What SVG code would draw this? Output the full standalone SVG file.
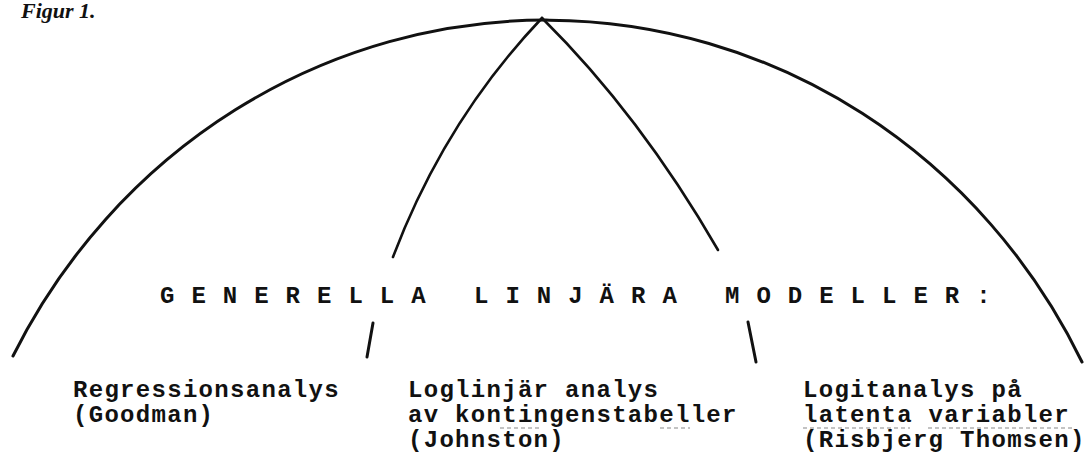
<svg xmlns="http://www.w3.org/2000/svg" width="1091" height="468" viewBox="0 0 1091 468">
<style>
.t{font-family:"Liberation Mono","Courier New",monospace;font-size:24px;font-weight:bold;letter-spacing:1.3px;fill:#111}
.c{fill:none;stroke:#111;stroke-linecap:round}
.u{stroke:#888;stroke-width:1.2;stroke-dasharray:4 3}
</style>
<rect width="1091" height="468" fill="#fff"/>
<text x="21" y="18" font-family="Liberation Serif, serif" font-style="italic" font-weight="bold" font-size="22" fill="#111">Figur 1.</text>
<g id="connectors">
<path class="c" stroke-width="3" d="M 13 356 A 600 621 0 0 1 1082 362"/>
<path class="c" stroke-width="2.6" d="M 542 18 Q 445 120 393 257"/>
<path class="c" stroke-width="2.6" d="M 542 18 Q 640 115 718 250"/>
<path class="c" stroke-width="3" d="M 373 323 L 367 357"/>
<path class="c" stroke-width="3" d="M 748 322 L 756 362"/>
</g>
<g id="title">
<text class="t" x="160" y="303">G E N E R E L L A</text>
<text class="t" x="474" y="303">L I N J Ä R A</text>
<text class="t" x="725" y="303">M O D E L L E R :</text>
</g>
<g id="node-regression">
<text class="t" x="73" y="397">Regressionsanalys</text>
<text class="t" x="73" y="422">(Goodman)</text>
</g>
<g id="node-loglinjar">
<text class="t" x="408" y="397">Loglinjär analys</text>
<text class="t" x="408" y="422">av kontingenstabeller</text>
<text class="t" x="408" y="447">(Johnston)</text>
<line class="u" x1="500" y1="428" x2="540" y2="428"/>
<line class="u" x1="660" y1="428" x2="690" y2="428"/>
</g>
<g id="node-logit">
<text class="t" x="803" y="397">Logitanalys på</text>
<text class="t" x="803" y="422">latenta variabler</text>
<text class="t" x="803" y="447">(Risbjerg Thomsen)</text>
<line class="u" x1="803" y1="428" x2="910" y2="428"/>
<line class="u" x1="928" y1="428" x2="1073" y2="428"/>
</g>
</svg>
